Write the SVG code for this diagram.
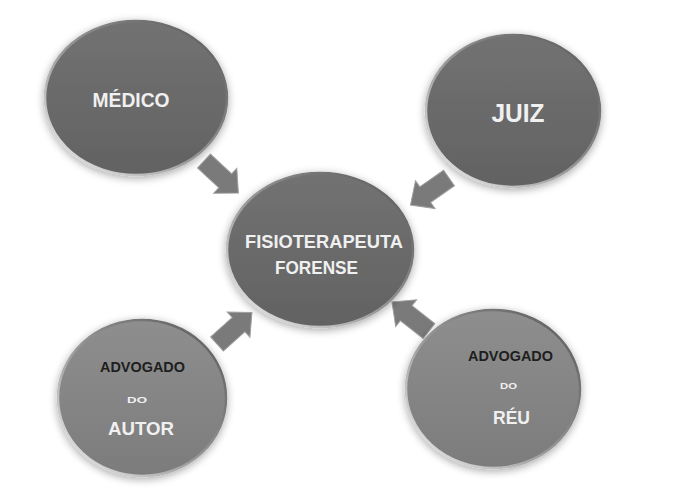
<svg xmlns="http://www.w3.org/2000/svg" width="690" height="494" viewBox="0 0 690 494">
  <defs>
    <linearGradient id="gDark" x1="0" y1="0" x2="0" y2="1">
      <stop offset="0" stop-color="#727272"/>
      <stop offset="1" stop-color="#626262"/>
    </linearGradient>
    <linearGradient id="gLight" x1="0" y1="0" x2="0" y2="1">
      <stop offset="0" stop-color="#8e8e8e"/>
      <stop offset="1" stop-color="#7c7c7c"/>
    </linearGradient>
    <linearGradient id="gRim" x1="0" y1="1" x2="1" y2="0">
      <stop offset="0" stop-color="#f2f2f2"/>
      <stop offset="0.45" stop-color="#9a9a9a"/>
      <stop offset="1" stop-color="#555555"/>
    </linearGradient>
    <filter id="shadow" x="-20%" y="-20%" width="140%" height="140%">
      <feGaussianBlur in="SourceAlpha" stdDeviation="4"/>
      <feOffset dx="0" dy="2" result="b"/>
      <feComponentTransfer><feFuncA type="linear" slope="0.35"/></feComponentTransfer>
      <feMerge><feMergeNode/><feMergeNode in="SourceGraphic"/></feMerge>
    </filter>
    <path id="arrow" d="M0,-9.5 L29,-9.5 L29,-17 L47,0 L29,17 L29,9.5 L0,9.5 Z"/>
  </defs>
  <style>
    .dark { fill: url(#gDark); stroke: url(#gRim); stroke-width: 2.5; filter: url(#shadow); }
    .light { fill: url(#gLight); stroke: url(#gRim); stroke-width: 2.5; filter: url(#shadow); }
    .lbl { font-family: "Liberation Sans", "DejaVu Sans", sans-serif; font-weight: bold; text-anchor: middle; fill: #f0f0f0; }
    .dk { fill: #1e1e1e; }
    .arr { fill: #7a7a7a; stroke: #a0a0a0; stroke-width: 1; }
  </style>
  <rect width="690" height="494" fill="#ffffff"/>

  <g id="connectors">
    <use href="#arrow" class="arr" transform="translate(204,161) rotate(43)"/>
    <use href="#arrow" class="arr" transform="translate(449,178) rotate(145)"/>
    <use href="#arrow" class="arr" transform="translate(217,344) rotate(-42)"/>
    <use href="#arrow" class="arr" transform="translate(429,331) rotate(218)"/>
  </g>

  <g id="medico">
    <ellipse class="dark" cx="136" cy="98" rx="91" ry="77"/>
    <text class="lbl" x="131" y="107" font-size="19.5" textLength="77" lengthAdjust="spacingAndGlyphs">MÉDICO</text>
  </g>

  <g id="juiz">
    <ellipse class="dark" cx="513" cy="111" rx="87" ry="76"/>
    <text class="lbl" x="518" y="122" font-size="25" textLength="53" lengthAdjust="spacingAndGlyphs">JUIZ</text>
  </g>

  <g id="fisioterapeuta">
    <ellipse class="dark" cx="320" cy="250" rx="93" ry="77"/>
    <text class="lbl" x="324" y="248" font-size="18" textLength="158" lengthAdjust="spacingAndGlyphs">FISIOTERAPEUTA</text>
    <text class="lbl" x="316.5" y="274" font-size="18" textLength="83" lengthAdjust="spacingAndGlyphs">FORENSE</text>
  </g>

  <g id="advogado-autor">
    <ellipse class="light" cx="142" cy="398" rx="84" ry="78"/>
    <text class="lbl dk" x="142.5" y="372" font-size="14" textLength="85" lengthAdjust="spacingAndGlyphs">ADVOGADO</text>
    <text class="lbl" x="137" y="403" font-size="9" textLength="20" lengthAdjust="spacingAndGlyphs">DO</text>
    <text class="lbl" x="141" y="435" font-size="18" textLength="66" lengthAdjust="spacingAndGlyphs">AUTOR</text>
  </g>

  <g id="advogado-reu">
    <ellipse class="light" cx="493" cy="389" rx="87" ry="79"/>
    <text class="lbl dk" x="510.5" y="361" font-size="14" textLength="85" lengthAdjust="spacingAndGlyphs">ADVOGADO</text>
    <text class="lbl" x="508.5" y="389" font-size="9" textLength="17" lengthAdjust="spacingAndGlyphs">DO</text>
    <text class="lbl" x="511.5" y="424" font-size="19" textLength="37" lengthAdjust="spacingAndGlyphs">RÉU</text>
  </g>
</svg>
